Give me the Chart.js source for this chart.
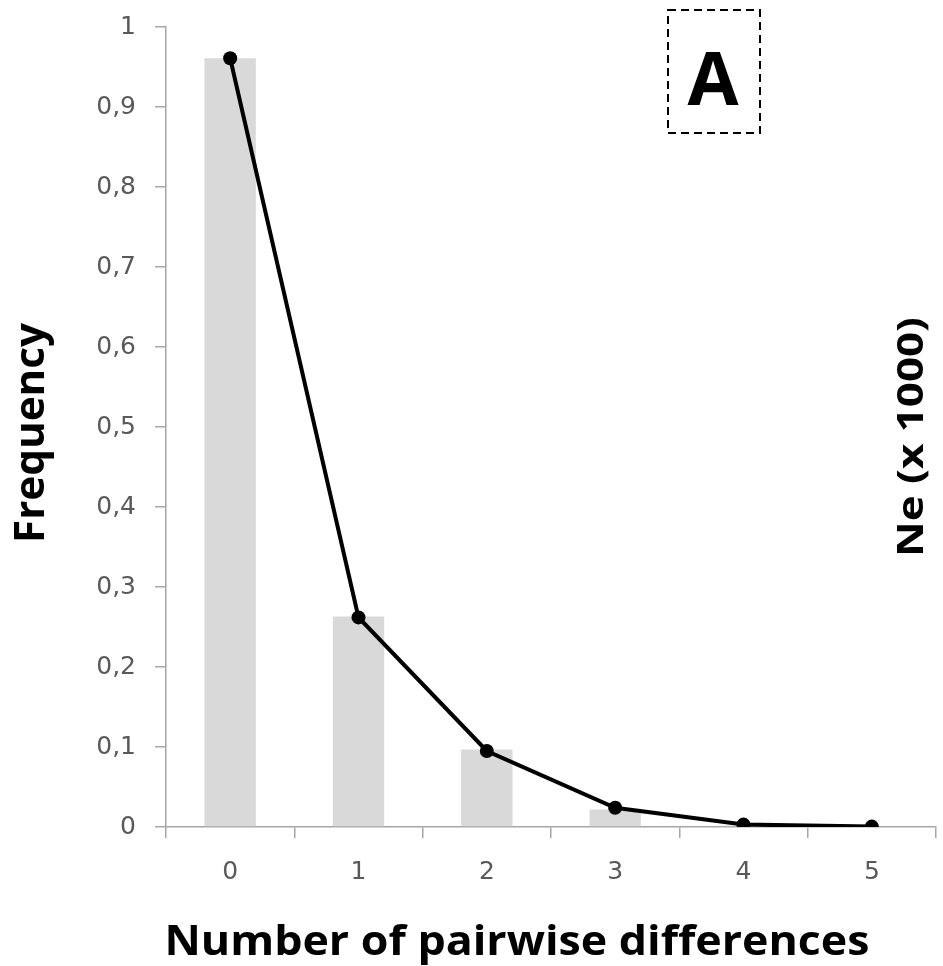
<!DOCTYPE html>
<html>
<head>
<meta charset="utf-8">
<script src="https://cdn.jsdelivr.net/npm/chart.js@4.4.0/dist/chart.umd.min.js"></script>
<style>
  html, body { margin: 0; padding: 0; background: #fff; }
  #wrap { width: 943px; height: 966px; position: relative; }
</style>
</head>
<body>
<div id="wrap"><canvas id="myChart"></canvas></div>
<script>
const categories = ["0", "1", "2", "3", "4", "5"];
const observed = [0.961, 0.263, 0.097, 0.022, 0.002, 0];
const expected = [0.961, 0.262, 0.095, 0.024, 0.003, 0.0005];
const yTickLabels = ["0", "0,1", "0,2", "0,3", "0,4", "0,5", "0,6", "0,7", "0,8", "0,9", "1"];

const axisGray = "#a6a6a6";
const tickFont = { family: "DejaVu Sans", size: 25 };

// axis titles, the right-hand label and the "A" panel box
const textPlugin = {
  id: "texts",
  afterDraw(chart) {
    const ctx = chart.ctx;
    ctx.save();
    ctx.fillStyle = "#000";
    ctx.textAlign = "center";
    ctx.textBaseline = "alphabetic";

    // x title
    ctx.font = "bold 41px 'Open Sans'";
    let w = ctx.measureText("Number of pairwise differences").width;
    ctx.save();
    ctx.translate(517, 955);
    ctx.scale(705 / w, 1);
    ctx.fillText("Number of pairwise differences", 0, 0);
    ctx.restore();

    // y title
    ctx.font = "bold 42px 'Open Sans'";
    w = ctx.measureText("Frequency").width;
    ctx.save();
    ctx.translate(44, 433);
    ctx.rotate(-Math.PI / 2);
    ctx.scale(220 / w, 1);
    ctx.fillText("Frequency", 0, 0);
    ctx.restore();

    // right label
    ctx.font = "bold 42px 'Open Sans'";
    w = ctx.measureText("Ne (x 1000)").width;
    ctx.save();
    ctx.translate(923, 437);
    ctx.rotate(-Math.PI / 2);
    ctx.scale(240 / w, 0.84);
    ctx.fillText("Ne (x 1000)", 0, 0);
    ctx.restore();

    // panel letter box
    ctx.strokeStyle = "#000";
    ctx.lineWidth = 2;
    ctx.setLineDash([8, 5]);
    ctx.strokeRect(668, 10, 92, 123);
    ctx.setLineDash([]);
    ctx.font = "bold 74px 'Open Sans'";
    ctx.fillText("A", 713, 105);
    ctx.restore();
  }
};

const data = {
  labels: categories,
  datasets: [
    {
      type: "line",
      label: "Expected",
      data: expected,
      borderColor: "#000",
      backgroundColor: "#000",
      borderWidth: 4,
      pointRadius: 7,
      pointBorderWidth: 0,
      tension: 0,
      order: 0,
    },
    {
      type: "bar",
      label: "Observed",
      data: observed,
      backgroundColor: "#d9d9d9",
      borderWidth: 0,
      barPercentage: 0.4,
      categoryPercentage: 1,
      order: 1,
    },
  ],
};

const config = {
  type: "bar",
  data: data,
  options: {
    responsive: true,
    maintainAspectRatio: false,
    animation: false,
    layout: { padding: { left: 0, right: 3, top: 27, bottom: 0 } },
    plugins: {
      legend: { display: false },
      tooltip: { enabled: false },
    },
    scales: {
      x: {
        offset: true,
        grid: {
          offset: true,
          drawOnChartArea: false,
          color: axisGray,
          lineWidth: 1.5,
          tickLength: 11,
        },
        border: { color: axisGray, width: 1.5 },
        ticks: { color: "#595959", font: tickFont, padding: 19, maxRotation: 0 },
        afterFit(scale) {
          scale.height = 139;
          scale.paddingLeft = 0;
          scale.paddingRight = 0;
        },
      },
      y: {
        min: 0,
        max: 1,
        grid: {
          drawOnChartArea: false,
          color: axisGray,
          lineWidth: 1.5,
          tickLength: 11,
        },
        border: { color: axisGray, width: 1.5 },
        ticks: {
          stepSize: 0.1,
          color: "#595959",
          font: tickFont,
          padding: 19,
          callback: (v, i) => yTickLabels[i],
        },
        afterFit(scale) {
          scale.width = 166;
          scale.paddingTop = 0;
          scale.paddingBottom = 0;
        },
      },
    },
  },
  plugins: [textPlugin],
};

const myChart = new Chart(document.getElementById("myChart"), config);
</script>
</body>
</html>
